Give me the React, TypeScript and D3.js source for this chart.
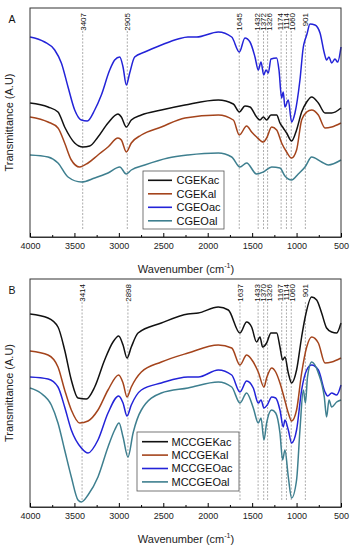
import React, { useEffect, useRef } from "react";
import * as d3 from "d3";

const W = 352;
const H = 550;

// wavenumber axis
const wnMajor = [4000, 3500, 3000, 2500, 2000, 1500, 1000, 500];
const wnMinor = [3750, 3250, 2750, 2250, 1750, 1250, 750];

// marked bands
const peaksA = [3407, 2905, 1645, 1432, 1372, 1326, 1174, 1114, 1060, 901];
const peaksB = [3414, 2898, 1637, 1433, 1370, 1326, 1167, 1114, 1060, 901];

const namesA = ["CGEKac", "CGEKal", "CGEOac", "CGEOal"];
const namesB = ["MCCGEKac", "MCCGEKal", "MCCGEOac", "MCCGEOal"];
const colors = ["#111111", "#a4441c", "#2323d8", "#3e7f8f"];

// panel A spectra  [wavenumber, transmittance (a.u.)]
const cgekac: [number, number][] = [
  [4000, 134], [3797, 130], [3685, 125], [3610, 110], [3497, 94], [3404, 90], [3328, 91], [3235, 100],
  [3122, 114], [3010, 123], [2972, 120], [2916, 110], [2860, 117], [2747, 122], [2522, 127], [2256, 132],
  [1881, 137], [1712, 133], [1644, 125], [1581, 131], [1524, 130], [1450, 120], [1412, 117], [1374, 120],
  [1337, 117], [1288, 122], [1224, 122], [1187, 114], [1150, 109], [1112, 104], [1056, 96], [1000, 107],
  [943, 125], [886, 135], [830, 140], [755, 134], [680, 124], [605, 124], [500, 129],
];
const cgekal: [number, number][] = [
  [4000, 120], [3797, 115], [3685, 109], [3610, 94], [3535, 77], [3441, 70], [3347, 74], [3235, 82],
  [3122, 90], [3010, 99], [2972, 97], [2916, 85], [2860, 94], [2747, 102], [2522, 110], [2256, 119],
  [1881, 122], [1712, 117], [1644, 102], [1562, 111], [1506, 105], [1450, 100], [1374, 95], [1337, 99],
  [1280, 110], [1224, 107], [1168, 94], [1112, 85], [1056, 79], [1000, 87], [943, 117], [886, 125],
  [830, 127], [755, 122], [680, 109], [605, 110], [500, 114],
];
const cgeoac: [number, number][] = [
  [4000, 200], [3835, 195], [3722, 187], [3647, 174], [3572, 150], [3497, 127], [3422, 117], [3355, 116],
  [3272, 127], [3197, 142], [3103, 167], [3047, 177], [2990, 180], [2953, 170], [2916, 152], [2878, 164],
  [2822, 180], [2709, 185], [2522, 192], [2334, 198], [2222, 200], [2124, 200], [1881, 205], [1730, 200],
  [1644, 185], [1581, 199], [1524, 195], [1468, 180], [1431, 167], [1400, 175], [1370, 162], [1344, 167],
  [1318, 164], [1288, 178], [1224, 179], [1198, 167], [1168, 139], [1150, 145], [1131, 130], [1093, 137],
  [1056, 115], [1018, 124], [962, 157], [924, 190], [905, 197], [886, 202], [849, 213], [793, 212],
  [736, 204], [688, 184], [662, 177], [635, 180], [605, 174], [568, 178], [538, 175], [500, 190],
];
const cgeoal: [number, number][] = [
  [4000, 82], [3797, 80], [3685, 74], [3572, 60], [3422, 55], [3272, 59], [3122, 64], [2990, 70],
  [2916, 63], [2860, 67], [2709, 72], [2447, 79], [2222, 82], [1881, 84], [1730, 80], [1637, 70],
  [1562, 74], [1450, 63], [1374, 65], [1280, 70], [1187, 69], [1131, 61], [1056, 57], [981, 63],
  [905, 70], [830, 80], [718, 75], [643, 72], [500, 77],
];

// panel B spectra
const mccgekac: [number, number][] = [
  [4000, 193], [3797, 189], [3685, 180], [3610, 157], [3535, 127], [3460, 109], [3366, 108], [3272, 120],
  [3160, 147], [3066, 165], [3002, 171], [2953, 162], [2908, 149], [2860, 160], [2784, 174], [2522, 184],
  [2222, 193], [2106, 194], [1881, 200], [1768, 197], [1637, 174], [1562, 185], [1506, 180], [1450, 165],
  [1412, 170], [1382, 160], [1337, 164], [1288, 174], [1224, 174], [1187, 160], [1157, 147], [1131, 150],
  [1093, 134], [1056, 124], [1000, 137], [943, 170], [905, 189], [830, 210], [774, 207], [718, 194],
  [662, 179], [605, 175], [549, 174], [500, 184],
];
const mccgekal: [number, number][] = [
  [4000, 156], [3797, 152], [3685, 140], [3610, 117], [3535, 97], [3441, 84], [3347, 86], [3235, 97],
  [3122, 117], [3002, 132], [2953, 124], [2908, 110], [2860, 120], [2747, 135], [2522, 145], [2222, 154],
  [1881, 162], [1730, 159], [1637, 142], [1562, 152], [1487, 145], [1431, 135], [1367, 120], [1337, 129],
  [1280, 139], [1235, 135], [1187, 124], [1142, 110], [1093, 94], [1056, 86], [1000, 97], [943, 134],
  [886, 160], [830, 170], [755, 164], [680, 144], [605, 145], [500, 149],
];
const mccgeoac: [number, number][] = [
  [4000, 130], [3797, 128], [3685, 120], [3610, 100], [3535, 77], [3422, 59], [3347, 54], [3235, 67],
  [3122, 94], [3002, 111], [2953, 104], [2908, 91], [2860, 102], [2747, 117], [2522, 124], [2222, 130],
  [2106, 130], [1881, 137], [1730, 132], [1637, 115], [1562, 126], [1487, 119], [1431, 104], [1400, 107],
  [1367, 99], [1330, 102], [1280, 110], [1235, 109], [1187, 97], [1150, 80], [1131, 87], [1093, 77],
  [1056, 64], [1000, 77], [943, 117], [886, 137], [830, 142], [755, 137], [680, 115], [650, 111],
  [605, 114], [549, 112], [500, 122],
];
const mccgeoal: [number, number][] = [
  [4000, 119], [3880, 114], [3760, 102], [3685, 84], [3610, 57], [3535, 30], [3460, 7], [3422, 5],
  [3347, 12], [3235, 30], [3122, 60], [3047, 77], [2998, 84], [2953, 70], [2897, 50], [2840, 74],
  [2747, 97], [2522, 114], [2222, 119], [1881, 125], [1730, 120], [1637, 104], [1562, 114], [1487, 99],
  [1431, 84], [1400, 89], [1367, 67], [1337, 84], [1280, 97], [1235, 94], [1187, 74], [1157, 47],
  [1131, 57], [1093, 30], [1056, 9], [1000, 27], [962, 77], [924, 117], [900, 104], [877, 130],
  [830, 145], [755, 134], [688, 110], [662, 90], [635, 107], [605, 100], [549, 105], [500, 107],
];

const font = "Arial, 'Liberation Sans', sans-serif";

const panels = [
  {
    tag: "A", top: 8, bottom: 237, peaks: peaksA, names: namesA,
    series: [cgekac, cgekal, cgeoac, cgeoal],
    legend: { x: 143, y: 171, w: 81, h: 58, l0: 148, l1: 172, tx: 176.5, r0: 180.3, dr: 13.5 },
  },
  {
    tag: "B", top: 279, bottom: 507, peaks: peaksB, names: namesB,
    series: [mccgekac, mccgekal, mccgeoac, mccgeoal],
    legend: { x: 137, y: 432, w: 102, h: 59, l0: 142, l1: 168, tx: 171.5, r0: 441.7, dr: 13.4 },
  },
];

export default function App() {
  const ref = useRef<SVGSVGElement>(null);

  useEffect(() => {
    const svg = d3.select(ref.current);
    svg.selectAll("*").remove();

    const x = d3.scaleLinear().domain([4000, 500]).range([30, 341]);

    panels.forEach((p) => {
      const y = d3.scaleLinear().domain([0, p.bottom - p.top]).range([p.bottom, p.top]);
      const g = svg.append("g");

      // dashed band markers
      g.selectAll(".band")
        .data(p.peaks)
        .enter()
        .append("line")
        .attr("x1", (d) => x(d))
        .attr("x2", (d) => x(d))
        .attr("y1", p.top + 23)
        .attr("y2", p.bottom - 7)
        .attr("stroke", "#8a8a8a")
        .attr("stroke-width", 0.7)
        .attr("stroke-dasharray", "2,1.5");

      // spread close labels a little
      const pos = p.peaks.map((d) => x(d));
      const gap = 5.8;
      for (let it = 0; it < 40; it++) {
        for (let i = 1; i < pos.length; i++) {
          const dd = pos[i] - pos[i - 1];
          if (dd < gap) {
            const s = (gap - dd) / 2;
            pos[i - 1] -= s;
            pos[i] += s;
          }
        }
      }
      g.selectAll(".plab")
        .data(p.peaks)
        .enter()
        .append("text")
        .attr("transform", (d, i) => `translate(${pos[i]},${p.top + 5}) rotate(-90)`)
        .attr("dy", "0.35em")
        .attr("text-anchor", "end")
        .attr("font-family", font)
        .attr("font-size", 8)
        .attr("fill", "#111")
        .text((d) => d);

      // spectra
      const line = d3
        .line<[number, number]>()
        .x((d) => x(d[0]))
        .y((d) => y(d[1]))
        .curve(d3.curveMonotoneX);
      p.series.forEach((s, i) => {
        g.append("path")
          .attr("d", line(s))
          .attr("fill", "none")
          .attr("stroke", colors[i])
          .attr("stroke-width", 1.5)
          .attr("stroke-linejoin", "round");
      });

      // frame
      g.append("rect")
        .attr("x", 30)
        .attr("y", p.top)
        .attr("width", 311)
        .attr("height", p.bottom - p.top)
        .attr("fill", "none")
        .attr("stroke", "#333")
        .attr("stroke-width", 1);

      // bottom axis, ticks inward
      const ax = g.append("g").attr("transform", `translate(0,${p.bottom})`);
      ax.call(
        d3.axisBottom(x).tickValues(wnMajor).tickSizeInner(-4).tickSizeOuter(0).tickPadding(6).tickFormat(d3.format("d"))
      );
      ax.select(".domain").attr("stroke", "#333");
      ax.selectAll("text").attr("font-family", font).attr("font-size", 9).attr("fill", "#222");
      const mn = g.append("g").attr("transform", `translate(0,${p.bottom})`);
      mn.call(d3.axisBottom(x).tickValues(wnMinor).tickSize(-2).tickFormat(() => ""));
      mn.select(".domain").remove();

      // axis titles
      const t = g
        .append("text")
        .attr("x", 186)
        .attr("y", p.bottom + 36)
        .attr("text-anchor", "middle")
        .attr("font-family", font)
        .attr("font-size", 11)
        .attr("fill", "#222");
      t.append("tspan").text("Wavenumber (cm");
      t.append("tspan").attr("dy", -5).attr("font-size", 7).text("-1");
      t.append("tspan").attr("dy", 5).text(")");

      g.append("text")
        .attr("transform", `translate(13,${(p.top + p.bottom) / 2}) rotate(-90)`)
        .attr("text-anchor", "middle")
        .attr("font-family", font)
        .attr("font-size", 11)
        .attr("fill", "#222")
        .text("Transmittance (A.U)");

      g.append("text")
        .attr("x", 12)
        .attr("y", p.top + 15)
        .attr("text-anchor", "middle")
        .attr("font-family", font)
        .attr("font-size", 10.5)
        .attr("fill", "#111")
        .text(p.tag);

      // legend
      const L = p.legend;
      const lg = g.append("g");
      lg.append("rect")
        .attr("x", L.x)
        .attr("y", L.y)
        .attr("width", L.w)
        .attr("height", L.h)
        .attr("fill", "#fff")
        .attr("stroke", "#555")
        .attr("stroke-width", 0.8);
      p.names.forEach((n, i) => {
        const yy = L.r0 + i * L.dr;
        lg.append("line")
          .attr("x1", L.l0)
          .attr("x2", L.l1)
          .attr("y1", yy)
          .attr("y2", yy)
          .attr("stroke", colors[i])
          .attr("stroke-width", 1.6);
        lg.append("text")
          .attr("x", L.tx)
          .attr("y", yy)
          .attr("dy", "0.35em")
          .attr("font-family", font)
          .attr("font-size", 11)
          .attr("fill", "#111")
          .text(n);
      });
    });
  }, []);

  return (
    <svg
      ref={ref}
      width={W}
      height={H}
      style={{ position: "absolute", left: 0, top: 0, background: "#fff" }}
    />
  );
}
